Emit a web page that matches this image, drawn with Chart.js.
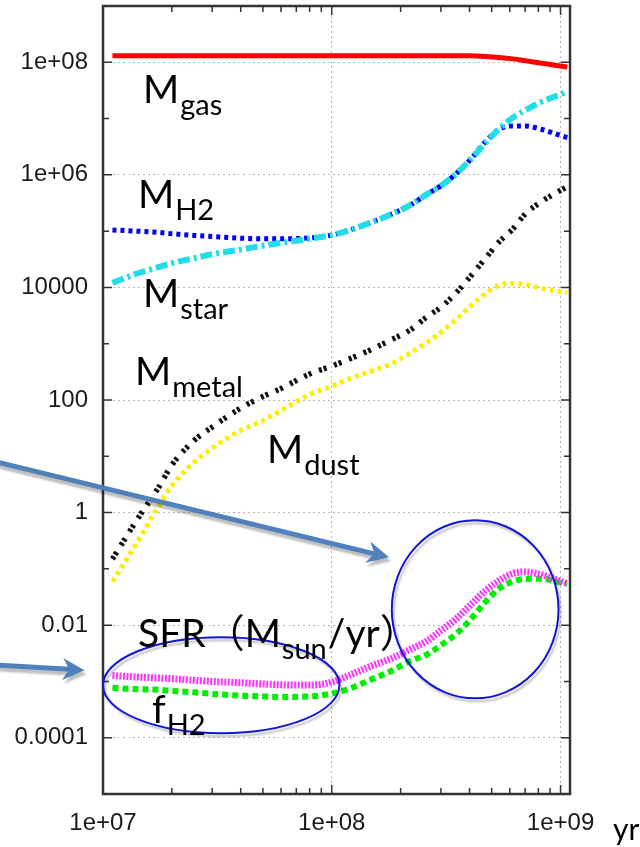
<!DOCTYPE html>
<html>
<head>
<meta charset="utf-8">
<script src="https://cdn.jsdelivr.net/npm/chart.js@4.4.1/dist/chart.umd.min.js"></script>
<style>
  html, body { margin: 0; padding: 0; background: #fff; }
  canvas { display: block; }
</style>
</head>
<body>
<canvas id="massChart" width="640" height="847"></canvas>
<script>
// time grid (yr)
var years = [1.1e7, 1.4e7, 1.75e7, 2e7, 2.5e7, 3e7, 4e7, 5e7, 6e7, 8e7, 1e8, 1.2e8, 1.5e8,
             1.8e8, 2.2e8, 2.6e8, 3e8, 3.5e8, 4e8, 4.7e8, 5.4e8, 6.2e8, 7e8, 8.3e8, 1e9, 1.07e9];

// series
var mGas   = [1.3e8, 1.3e8, 1.3e8, 1.3e8, 1.3e8, 1.3e8, 1.3e8, 1.3e8, 1.3e8, 1.3e8, 1.3e8, 1.3e8, 1.3e8,
              1.3e8, 1.3e8, 1.3e8, 1.3e8, 1.3e8, 1.3e8, 1.27e8, 1.22e8, 1.15e8, 1.07e8, 9.6e7, 8.6e7, 8.2e7];
var mH2    = [1.05e5, 1.0e5, 9.5e4, 9.0e4, 8.4e4, 8.0e4, 7.5e4, 7.3e4, 7.3e4, 7.6e4, 8.5e4, 1.05e5, 1.45e5,
              1.95e5, 2.9e5, 4.5e5, 6.4e5, 1.05e6, 1.8e6, 3.9e6, 6.5e6, 7.4e6, 7.4e6, 6.4e6, 5.0e6, 4.6e6];
var mStar  = [1.2e4, 1.75e4, 2.3e4, 2.7e4, 3.3e4, 3.9e4, 4.7e4, 5.5e4, 6.2e4, 7.3e4, 8.5e4, 1.05e5, 1.45e5,
              1.95e5, 2.9e5, 4.5e5, 6.4e5, 1.05e6, 1.8e6, 3.7e6, 6.6e6, 1.05e7, 1.4e7, 2.0e7, 2.7e7, 3.0e7];
var mMetal = [0.15, 0.72, 2.8, 7.0, 19, 33, 72, 115, 160, 290, 400, 540, 800,
              1150, 1750, 3000, 4450, 8000, 1.5e4, 3.3e4, 6.5e4, 1.1e5, 2e5, 3.4e5, 5.3e5, 6.2e5];
var mDust  = [0.06, 0.28, 1.3, 3.0, 7.8, 14, 29, 43, 65, 125, 175, 240, 330,
              430, 680, 1050, 1600, 2700, 4500, 7800, 1.1e4, 1.18e4, 1.12e4, 9600, 8400, 8100];
var sfr    = [1.27e-3, 1.2e-3, 1.15e-3, 1.12e-3, 1.05e-3, 1.0e-3, 9.5e-4, 9.0e-4, 8.7e-4, 8.6e-4, 9.7e-4, 1.3e-3, 1.9e-3,
              2.5e-3, 3.7e-3, 5.2e-3, 8.0e-3, 0.013, 0.022, 0.041, 0.062, 0.083, 0.088, 0.078, 0.06, 0.055];
var fH2    = [7.7e-4, 7.3e-4, 7.1e-4, 6.8e-4, 6.4e-4, 6.0e-4, 5.6e-4, 5.4e-4, 5.3e-4, 5.4e-4, 6.1e-4, 7.5e-4, 1.1e-3,
              1.5e-3, 2.3e-3, 3.0e-3, 4.4e-3, 7.0e-3, 0.012, 0.026, 0.045, 0.06, 0.066, 0.067, 0.057, 0.055];

// ticks
var yTickValues = [1e-4, 1e-2, 1, 100, 1e4, 1e6, 1e8];
var yTickLabels = ['0.0001', '0.01', '1', '100', '10000', '1e+06', '1e+08'];
var yMinorValues = [1e-5, 1e-3, 0.1, 10, 1000, 1e5, 1e7, 1e9];
var xTickValues = [1e7, 1e8, 1e9];
var xTickLabels = ['1e+07', '1e+08', '1e+09'];

// annotation texts (main text, subscript, trailing text)
var notes = [
    {x: 143, y: 103, main: 'M', sub: 'gas'},
    {x: 138, y: 208, main: 'M', sub: 'H2'},
    {x: 143, y: 307, main: 'M', sub: 'star'},
    {x: 135, y: 385, main: 'M', sub: 'metal'},
    {x: 267, y: 463, main: 'M', sub: 'dust'},
    {x: 138, y: 647, main: 'SFR（M', sub: 'sun', after: '/yr）'},
    {x: 152, y: 723, main: 'f', sub: 'H2'}
];

function sameVal(a, b) {
    return Math.abs(Math.log10(a) - Math.log10(b)) < 1e-6;
}
function isIn(list, v) {
    return list.some(function (w) { return sameVal(w, v); });
}
function points(arr) {
    return years.map(function (t, i) { return {x: t, y: arr[i]}; });
}

var xAll = [];
[1e7, 1e8].forEach(function (d) {
    for (var k = 1; k < 10; k++) xAll.push(k * d);
});
xAll.push(1e9);
var yAll = yTickValues.concat(yMinorValues).sort(function (a, b) { return a - b; });

function drawArrow(ctx, x0, y0, x1, y1) {
    var ang = Math.atan2(y1 - y0, x1 - x0);
    var len = 22, half = 11, notch = 7;
    ctx.beginPath();
    ctx.moveTo(x0, y0);
    ctx.lineTo(x1 - (len - notch) * Math.cos(ang), y1 - (len - notch) * Math.sin(ang));
    ctx.stroke();
    ctx.save();
    ctx.translate(x1, y1);
    ctx.rotate(ang);
    ctx.beginPath();
    ctx.moveTo(0, 0);
    ctx.lineTo(-len, -half);
    ctx.lineTo(-len + notch, 0);
    ctx.lineTo(-len, half);
    ctx.closePath();
    ctx.fill();
    ctx.restore();
}

var overlay = {
    id: 'overlay',
    beforeDraw: function (chart) {
        var ctx = chart.ctx;
        ctx.save();
        ctx.fillStyle = '#fff';
        ctx.fillRect(0, 0, chart.width, chart.height);
        ctx.restore();
    },
    afterDatasetsDraw: function (chart) {
        var ctx = chart.ctx, a = chart.chartArea;
        var xs = chart.scales.x, ys = chart.scales.y;
        ctx.save();

        // inward ticks on all four sides
        ctx.strokeStyle = '#333';
        ctx.lineWidth = 1.5;
        yAll.forEach(function (v) {
            var py = ys.getPixelForValue(v);
            var l = isIn(yTickValues, v) ? 9 : 6;
            ctx.beginPath();
            ctx.moveTo(a.left, py); ctx.lineTo(a.left + l, py);
            ctx.moveTo(a.right, py); ctx.lineTo(a.right - l, py);
            ctx.stroke();
        });
        xAll.forEach(function (v) {
            var px = xs.getPixelForValue(v);
            var l = isIn(xTickValues, v) ? 9 : 6;
            ctx.beginPath();
            ctx.moveTo(px, a.bottom); ctx.lineTo(px, a.bottom - l);
            ctx.moveTo(px, a.top); ctx.lineTo(px, a.top + l);
            ctx.stroke();
        });

        // frame
        ctx.lineWidth = 2.5;
        ctx.strokeRect(a.left, a.top, a.right - a.left, a.bottom - a.top);

        // ellipses (bounding boxes in data units)
        var rings = [
            {t0: 1e7, t1: 1.08e8, v0: 1.2e-4, v1: 6.1e-3},
            {t0: 1.83e8, t1: 9.8e8, v0: 5.0e-4, v1: 0.73}
        ];
        ctx.lineWidth = 2;
        ctx.strokeStyle = '#1414dc';
        ctx.shadowColor = 'rgba(0,0,0,0.25)';
        ctx.shadowOffsetX = 2;
        ctx.shadowOffsetY = 3;
        ctx.shadowBlur = 2;
        rings.forEach(function (r) {
            var x0 = xs.getPixelForValue(r.t0), x1 = xs.getPixelForValue(r.t1);
            var y0 = ys.getPixelForValue(r.v0), y1 = ys.getPixelForValue(r.v1);
            ctx.beginPath();
            ctx.ellipse((x0 + x1) / 2, (y0 + y1) / 2, Math.abs(x1 - x0) / 2, Math.abs(y1 - y0) / 2, 0, 0, Math.PI * 2);
            ctx.stroke();
        });

        // arrows (data units, tails run off the left edge)
        var arrows = [
            {t0: 3.46e6, v0: 7.85, t1: 1.78e8, v1: 0.16},
            {t0: 3.46e6, v0: 1.95e-3, t1: 8.3e6, v1: 1.58e-3}
        ];
        ctx.strokeStyle = '#4f81bd';
        ctx.fillStyle = '#4f81bd';
        ctx.lineWidth = 5;
        ctx.lineCap = 'round';
        ctx.shadowOffsetY = 4;
        arrows.forEach(function (r) {
            drawArrow(ctx, xs.getPixelForValue(r.t0), ys.getPixelForValue(r.v0),
                xs.getPixelForValue(r.t1), ys.getPixelForValue(r.v1));
        });
        ctx.shadowColor = 'transparent';

        // labels
        ctx.fillStyle = '#000';
        ctx.textBaseline = 'alphabetic';
        ctx.textAlign = 'left';
        var big = '39px Lato, "Noto Sans CJK JP", sans-serif';
        var small = '29px Lato, "Noto Sans CJK JP", sans-serif';
        notes.forEach(function (n) {
            ctx.font = big;
            ctx.fillText(n.main, n.x, n.y);
            var x = n.x + ctx.measureText(n.main).width + 1;
            ctx.font = small;
            ctx.fillText(n.sub, x, n.y + 12);
            x += ctx.measureText(n.sub).width + 1;
            if (n.after) {
                ctx.font = big;
                ctx.fillText(n.after, x, n.y);
            }
        });
        ctx.font = '30px Lato, sans-serif';
        ctx.fillText('yr', 613, 840);
        ctx.restore();
    }
};

function line(arr, color, width, dash, order) {
    return {
        data: points(arr),
        borderColor: color,
        borderWidth: width,
        borderDash: dash,
        borderCapStyle: 'butt',
        pointRadius: 0,
        fill: false,
        cubicInterpolationMode: 'monotone',
        order: order
    };
}

function gridColor(list) {
    return function (c) {
        return c.tick && isIn(list, c.tick.value) ? '#b8b8b8' : 'transparent';
    };
}

var ctxM = document.getElementById('massChart').getContext('2d');
var massChart = new Chart(ctxM, {
    type: 'line',
    data: {
        datasets: [
            line(mGas, '#ff0000', 5, [], 6),
            line(mMetal, '#111111', 5.5, [3, 2, 3, 8], 5),
            line(mDust, '#ffee00', 5, [4, 4], 4),
            line(mH2, '#0000ff', 5, [4, 4], 3),
            line(mStar, '#22dde8', 6, [12, 4, 3, 4], 2),
            line(fH2, '#00ee00', 6, [6, 4], 1),
            line(sfr, '#ff33ff', 7, [2, 1.5], 0)
        ]
    },
    options: {
        responsive: false,
        devicePixelRatio: 1,
        animation: false,
        layout: {padding: {left: 0, top: 6, right: 70, bottom: 0}},
        plugins: {legend: {display: false}, tooltip: {enabled: false}},
        scales: {
            x: {
                type: 'logarithmic',
                min: 1e7,
                max: 1.1e9,
                afterBuildTicks: function (s) {
                    s.ticks = xAll.map(function (v) { return {value: v}; });
                },
                afterFit: function (s) {
                    s.height = 53;
                    s.paddingLeft = 0;
                    s.paddingRight = 0;
                },
                border: {display: false, dash: [2, 3]},
                grid: {drawTicks: false, color: gridColor(xTickValues), lineWidth: 1},
                ticks: {
                    autoSkip: false,
                    maxRotation: 0,
                    padding: 15,
                    color: '#1a1a1a',
                    font: {family: '"Liberation Sans", Arial, sans-serif', size: 24},
                    callback: function (value) {
                        for (var i = 0; i < xTickValues.length; i++) {
                            if (sameVal(xTickValues[i], value)) return xTickLabels[i];
                        }
                        return '';
                    }
                }
            },
            y: {
                type: 'logarithmic',
                min: 1e-5,
                max: 1e9,
                afterBuildTicks: function (s) {
                    s.ticks = yAll.map(function (v) { return {value: v}; });
                },
                afterFit: function (s) {
                    s.width = 103;
                    s.paddingTop = 0;
                    s.paddingBottom = 0;
                },
                border: {display: false, dash: [2, 3]},
                grid: {drawTicks: false, color: gridColor(yTickValues), lineWidth: 1},
                ticks: {
                    autoSkip: false,
                    padding: 15,
                    color: '#1a1a1a',
                    font: {family: '"Liberation Sans", Arial, sans-serif', size: 24},
                    callback: function (value) {
                        for (var i = 0; i < yTickValues.length; i++) {
                            if (sameVal(yTickValues[i], value)) return yTickLabels[i];
                        }
                        return '';
                    }
                }
            }
        }
    },
    plugins: [overlay]
});
</script>
</body>
</html>
